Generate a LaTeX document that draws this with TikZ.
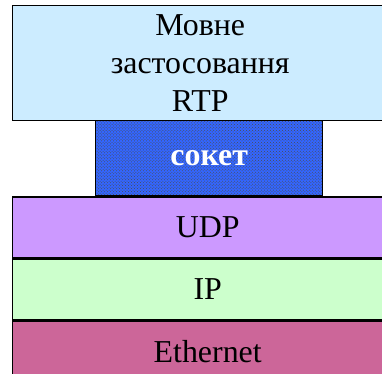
\documentclass[tikz,border=0pt]{standalone}
\usepackage{fontspec}
\setmainfont{Liberation Serif}
\usetikzlibrary{positioning,patterns}
\definecolor{appblue}{RGB}{204,236,255}
\definecolor{socketblue}{RGB}{51,102,255}
\definecolor{udpviolet}{RGB}{204,153,255}
\definecolor{ipgreen}{RGB}{204,255,204}
\definecolor{ethrose}{RGB}{204,102,153}

\begin{document}
\begin{tikzpicture}[x=1bp, y=-1bp,
    layer/.style={draw=black, line width=1.4bp, minimum width=390bp, inner sep=0pt,
      font=\fontsize{32}{38}\selectfont, align=center, anchor=north west}]
    \useasboundingbox (0,0) rectangle (382,374);
    \clip (0,0) rectangle (382,374);

    % Application on top
    \node[layer, fill=appblue, minimum width=375bp, minimum height=115bp] (app) at (12,5)
        {Мовне\\застосовання\\RTP};

    % Socket
    \node[layer, minimum width=227bp, minimum height=75bp,
        preaction={fill=socketblue}, pattern=crosshatch dots, pattern color=black!70,
        text=white, font=\fontsize{32}{38}\selectfont\bfseries] (sock) at (95,120) {сокет};

    % Transport and lower layers
    \node[layer, fill=udpviolet, minimum height=61bp] (udp) at (app.west |- sock.south) {UDP};
    \node[layer, fill=ipgreen, minimum height=60bp] (ip) at (udp.south west) {IP};
    \node[layer, fill=ethrose, minimum height=62bp] (eth) at (ip.south west) {Ethernet};
\end{tikzpicture}
\end{document}
